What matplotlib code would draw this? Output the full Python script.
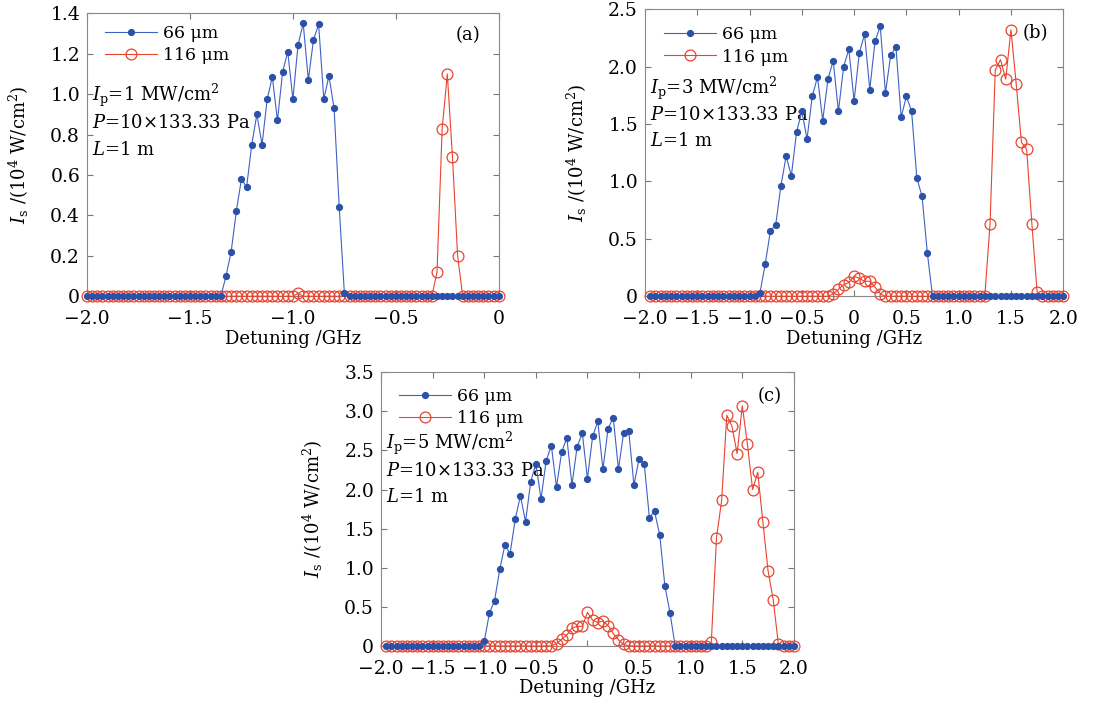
import numpy as np
import matplotlib
matplotlib.use('Agg')
import matplotlib.pyplot as plt
from matplotlib.ticker import FuncFormatter

plt.rcParams['font.family'] = ['DejaVu Serif']
plt.rcParams['mathtext.fontset'] = 'dejavuserif'
plt.rcParams['font.size'] = 12.5

# Detuning grids (GHz)
x_a = np.round(np.arange(-2.0, 0.0001, 0.025), 3)
x_bc = np.round(np.arange(-1.95, 2.0001, 0.05), 3)

# (a) Ip = 1 MW/cm2
a_66 = [0] * 27 + [0.10, 0.22, 0.42, 0.58, 0.54, 0.75, 0.90, 0.75, 0.975, 1.085,
                   0.87, 1.11, 1.21, 0.975, 1.245, 1.35, 1.07, 1.27, 1.345, 0.975,
                   1.09, 0.93, 0.44, 0.015] + [0] * 30
a_116 = [0] * 41 + [0.015] + [0] * 26 + [0.12, 0.83, 1.10, 0.69, 0.20] + [0] * 8

# (b) Ip = 3 MW/cm2
b_66 = [0] * 21 + [0.03, 0.28, 0.57, 0.62, 0.96, 1.22, 1.05, 1.43, 1.61, 1.37,
                   1.74, 1.91, 1.53, 1.89, 2.05, 1.61, 2.00, 2.15, 1.70, 2.12,
                   2.28, 1.80, 2.22, 2.35, 1.77, 2.10, 2.17, 1.56, 1.74, 1.61,
                   1.03, 0.87, 0.38] + [0] * 26
b_116 = ([0] * 35 + [0.02, 0.06, 0.10, 0.12, 0.175, 0.155, 0.13, 0.13, 0.08, 0.02]
         + [0] * 20 + [0.63, 1.97, 2.06, 1.89, 2.32, 1.85, 1.34, 1.28, 0.63, 0.04]
         + [0] * 5)

# (c) Ip = 5 MW/cm2
c_66 = [0] * 19 + [0.06, 0.42, 0.58, 0.98, 1.29, 1.18, 1.62, 1.92, 1.59, 2.10,
                   2.33, 1.88, 2.37, 2.56, 2.03, 2.48, 2.66, 2.06, 2.55, 2.72,
                   2.14, 2.68, 2.87, 2.26, 2.78, 2.92, 2.26, 2.72, 2.75, 2.06,
                   2.39, 2.33, 1.64, 1.72, 1.42, 0.77, 0.42] + [0] * 24
c_116 = ([0] * 33 + [0.03, 0.085, 0.14, 0.23, 0.25, 0.25, 0.43, 0.33, 0.30, 0.32,
                     0.26, 0.16, 0.08, 0.02]
         + [0] * 16 + [0.05, 1.38, 1.86, 2.95, 2.81, 2.46, 3.07, 2.58, 2.00, 2.22,
                       1.58, 0.96, 0.59, 0.02]
         + [0] * 3)

panels = [
    ('(a)', x_a, a_66, a_116, '1', (-2.0, 0.0), np.arange(-2.0, 0.01, 0.5), 1.4, np.arange(0, 1.41, 0.2),
     [0.0795, 0.578, 0.376, 0.403], (0.925, 0.922), (0.044, 0.958), [0.71, 0.611, 0.516]),
    ('(b)', x_bc, b_66, b_116, '3', (-2.0, 2.0), np.arange(-2.0, 2.01, 0.5), 2.5, np.arange(0, 2.51, 0.5),
     [0.589, 0.578, 0.382, 0.409], (0.933, 0.915), (0.045, 0.94), [0.725, 0.631, 0.54]),
    ('(c)', x_bc, c_66, c_116, '5', (-2.0, 2.0), np.arange(-2.0, 2.01, 0.5), 3.5, np.arange(0, 3.51, 0.5),
     [0.348, 0.0798, 0.377, 0.390], (0.942, 0.912), (0.044, 0.942), [0.741, 0.639, 0.544]),
]


def fmt(v, pos):
    if abs(v) < 1e-9:
        return '0'
    return f'{v:.1f}'.replace('-', '\u2212')


fig = plt.figure(figsize=(10.95, 7.02), dpi=100)

for tag, x, y66, y116, ip, xlim, xt, ymax, yt, rect, tagpos, legpos, ty in panels:
    ax = fig.add_axes(rect)
    r, = ax.plot(x, y116, '-', color='#e8442f', lw=0.8, marker='o', ms=7.8,
                 mfc='none', mec='#e8442f', mew=0.9, clip_on=False, zorder=3)
    b, = ax.plot(x, y66, '-', color='#3d62c4', lw=0.8, marker='o', ms=4.2,
                 mfc='#2b52a8', mec='#2b52a8', clip_on=False, zorder=4)
    ax.set_xlim(*xlim)
    ax.set_ylim(0, ymax)
    ax.set_xticks(xt)
    ax.set_yticks(yt)
    ax.xaxis.set_major_formatter(FuncFormatter(fmt))
    ax.yaxis.set_major_formatter(FuncFormatter(fmt))
    ax.tick_params(direction='in', top=True, right=True, length=4, color='#777777',
                   labelsize=13.5)
    ax.tick_params(axis='x', pad=10)
    ax.tick_params(axis='y', pad=5)
    for s in ax.spines.values():
        s.set_color('#888888')
        s.set_linewidth(0.8)
    ax.set_xlabel('Detuning /GHz', labelpad=1, fontsize=13)
    ax.set_ylabel(r'$I_{\rm s}$ /(10$^4$ W/cm$^2$)', labelpad=14, fontsize=13)
    ax.legend([b, r], ['66 \u03bcm', '116 \u03bcm'], loc='upper left',
              bbox_to_anchor=legpos, borderaxespad=0, borderpad=0, frameon=False,
              handlelength=3.0, handletextpad=0.35, labelspacing=0.3, fontsize=12.5)
    ax.text(tagpos[0], tagpos[1], tag, transform=ax.transAxes, ha='center', va='center',
            fontsize=13)
    ax.text(0.012, ty[0], r'$I_{\rm p}$=' + ip + r' MW/cm$^2$', transform=ax.transAxes,
            va='center', fontsize=13)
    ax.text(0.012, ty[1], r'$P$=10' + '\u00d7' + '133.33 Pa', transform=ax.transAxes,
            va='center', fontsize=13)
    ax.text(0.012, ty[2], r'$L$=1 m', transform=ax.transAxes, va='center', fontsize=13)

fig.savefig('out.png', dpi=100)
